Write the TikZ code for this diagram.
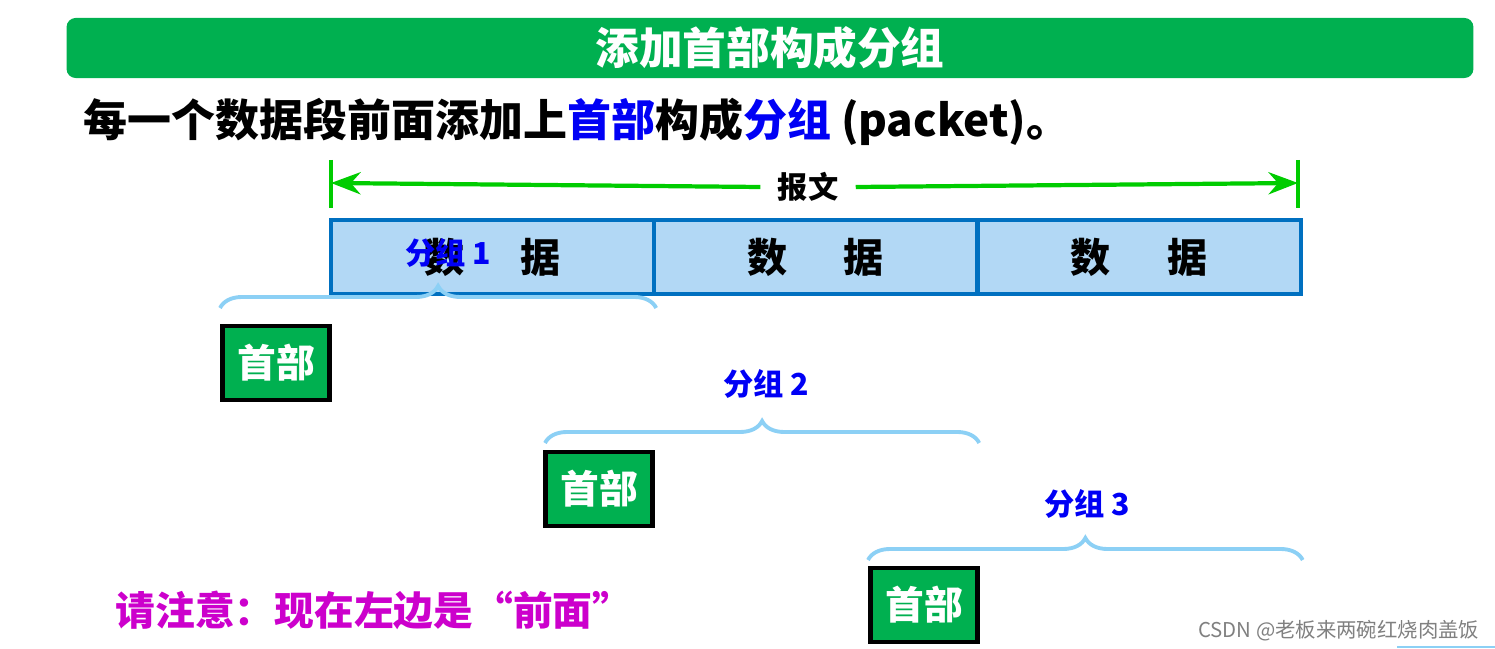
\documentclass[tikz,border=0pt]{standalone}
\usepackage{fontspec}
\setmainfont{Noto Sans CJK SC}
\usetikzlibrary{arrows.meta,decorations.pathreplacing}

\definecolor{barGreen}{RGB}{0,176,80}
\definecolor{dimGreen}{RGB}{0,204,0}
\definecolor{dataFill}{RGB}{178,216,245}
\definecolor{dataLine}{RGB}{0,112,192}
\definecolor{braceBlue}{RGB}{140,208,245}
\definecolor{noteMagenta}{RGB}{204,0,204}
\definecolor{pktBlue}{RGB}{0,0,245}

\begin{document}
\begin{tikzpicture}[x=0.01cm,y=-0.01cm,>=Stealth,
    databox/.style={draw=dataLine,fill=dataFill,line width=1.2pt,minimum width=3.23cm,minimum height=0.74cm,inner sep=0pt,font=\fontsize{11.4}{12}\selectfont\bfseries},
    hdrbox/.style={draw=black,fill=barGreen,line width=1.2pt,minimum width=1.07cm,minimum height=0.74cm,inner sep=0pt,text=white,font=\fontsize{11}{12}\selectfont\bfseries},
    pktlabel/.style={text=pktBlue,font=\fontsize{8.6}{10}\selectfont\bfseries},
    pktbrace/.style={draw=braceBlue,line width=1.1pt,decorate,decoration={brace,amplitude=0.22cm}}]
    \useasboundingbox (0,0) rectangle (1495,649);
    % title bar
    \node [fill=barGreen,rounded corners=0.09cm,inner sep=0pt,minimum width=14.06cm,minimum height=0.6cm,text=white,font=\fontsize{12.4}{14}\selectfont\bfseries] (title) at (770,48) {添加首部构成分组};
    \node [anchor=west,inner sep=0pt,font=\fontsize{12.5}{14}\selectfont\bfseries] (intro) at (83,122) {每一个数据段前面添加上{\color{pktBlue}首部}构成{\color{pktBlue}分组} (packet)。};
    % message length
    \coordinate (tickL) at (331,183);
    \coordinate (tickR) at (1298,183);
    \draw [dimGreen,line width=1.2pt] (331,160) -- (331,208);
    \draw [dimGreen,line width=1.2pt] (1298,160) -- (1298,208);
    \node [inner sep=0pt,minimum width=0.94cm,font=\fontsize{8.6}{10}\selectfont\bfseries] (msg) at (808,187) {报文};
    \draw [dimGreen,line width=1.2pt,->] (msg.west) -- (tickL);
    \draw [dimGreen,line width=1.2pt,->] (msg.east) -- (tickR);
    % data blocks
    \node [databox] (data1) at (492.5,257) {数\hspace{0.56cm}据};
    \node [databox] (data2) at (815.5,257) {数\hspace{0.56cm}据};
    \node [databox] (data3) at (1139,257) {数\hspace{0.56cm}据};
    % packets
    \node [hdrbox] (hdr1) at (276,363) {首部};
    \node [hdrbox] (hdr2) at (599,489) {首部};
    \node [hdrbox] (hdr3) at (924,605) {首部};
    \coordinate (brace1L) at (220,308);
    \coordinate (brace2L) at (545,443);
    \coordinate (brace3L) at (868,560);
    \draw [pktbrace] (brace1L) -- (data1.south east |- brace1L);
    \draw [pktbrace] (brace2L) -- (data2.south east |- brace2L);
    \draw [pktbrace] (brace3L) -- (data3.south east |- brace3L);
    \node [pktlabel] (pkt1) at (448,253) {分组 1};
    \node [pktlabel] (pkt2) at (766,384) {分组 2};
    \node [pktlabel] (pkt3) at (1087,504) {分组 3};
    % note
    \node [anchor=west,inner sep=0pt,text=noteMagenta,font=\fontsize{11.3}{13}\selectfont\bfseries] (note) at (115,610) {请注意：现在左边是“前面”};
    \node [anchor=east,inner sep=0pt,text=gray,font=\fontsize{5.8}{7}\selectfont] (mark) at (1480,631) {CSDN @老板来两碗红烧肉盖饭};
    \draw [braceBlue,line width=0.6pt] (1397,647) -- (1495,647);
\end{tikzpicture}
\end{document}
